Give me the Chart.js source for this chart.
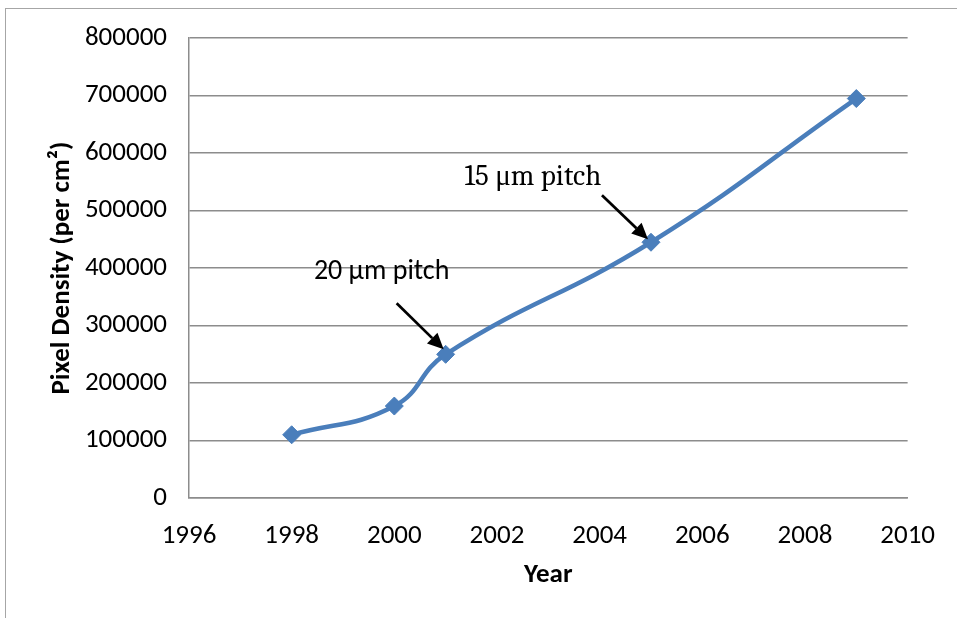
<!DOCTYPE html>
<html>
<head>
<meta charset="utf-8">
<script src="https://cdn.jsdelivr.net/npm/chart.js@4.4.1/dist/chart.umd.min.js"></script>
<style>
  html, body { margin: 0; padding: 0; background: #fff; }
  #wrap { position: relative; width: 957px; height: 618px; }
  #frame { position: absolute; left: 5px; top: 8px; right: 0; bottom: 0;
           border-top: 1.5px solid #a6a6a6; border-left: 1.5px solid #a6a6a6; }
  canvas { position: absolute; left: 0; top: 0; }
</style>
</head>
<body>
<div id="wrap">
  <div id="frame"></div>
  <canvas id="c" width="957" height="618"></canvas>
</div>
<script>
// Pixel density by year
const years = [1998, 2000, 2001, 2005, 2009];
const density = [110000, 160000, 250000, 445000, 695000];

// Callouts: which point they mark and their text
const calloutYears = [2001, 2005];
const calloutTexts = ['20 \u03bcm pitch', '15 \u03bcm pitch'];
const calloutFonts = ['28px Carlito, Lato, sans-serif', '29px Cambria, "Liberation Serif", "DejaVu Serif", serif'];

const xTicks = [1996, 1998, 2000, 2002, 2004, 2006, 2008, 2010];
const yTicks = [0, 100000, 200000, 300000, 400000, 500000, 600000, 700000, 800000];

const blue = '#4a7ebb';
const gridGray = '#8c8c8c';
const tickFont = { family: 'Carlito, Lato, sans-serif', size: 27 };
const titleFont = { family: 'Carlito, Lato, sans-serif', size: 27, weight: 'bold' };

// Arrow + label placement relative to the marked point (pixels)
const calloutGeom = [
  { tx: -64, ty: -82, ax0: -49, ay0: -51, ax1: -2, ay1: -5 },
  { tx: -118, ty: -65, ax0: -49, ay0: -47, ax1: -3, ay1: -3 }
];

const calloutPlugin = {
  id: 'callouts',
  afterDatasetsDraw(chart) {
    const { ctx, scales: { x, y } } = chart;
    calloutYears.forEach((yr, i) => {
      const idx = years.indexOf(yr);
      const px = x.getPixelForValue(yr);
      const py = y.getPixelForValue(density[idx]);
      const g = calloutGeom[i];
      ctx.save();
      ctx.fillStyle = '#000';
      ctx.font = calloutFonts[i];
      ctx.textAlign = 'center';
      ctx.textBaseline = 'middle';
      ctx.fillText(calloutTexts[i], px + g.tx, py + g.ty);
      // arrow shaft
      const x0 = px + g.ax0, y0 = py + g.ay0, x1 = px + g.ax1, y1 = py + g.ay1;
      const ang = Math.atan2(y1 - y0, x1 - x0);
      const head = 16, hw = 7.5;
      const bx = x1 - head * Math.cos(ang), by = y1 - head * Math.sin(ang);
      ctx.strokeStyle = '#000';
      ctx.lineWidth = 2.75;
      ctx.beginPath();
      ctx.moveTo(x0, y0);
      ctx.lineTo(bx, by);
      ctx.stroke();
      ctx.beginPath();
      ctx.moveTo(x1, y1);
      ctx.lineTo(bx + hw * Math.sin(ang), by - hw * Math.cos(ang));
      ctx.lineTo(bx - hw * Math.sin(ang), by + hw * Math.cos(ang));
      ctx.closePath();
      ctx.fill();
      ctx.restore();
    });
  }
};

new Chart(document.getElementById('c'), {
  type: 'line',
  data: {
    datasets: [{
      data: years.map((yr, i) => ({ x: yr, y: density[i] })),
      borderColor: blue,
      backgroundColor: blue,
      borderWidth: 4.5,
      tension: 0.45,
      pointStyle: 'rectRot',
      pointRadius: 9,
      pointBorderWidth: 1,
      pointBorderColor: blue,
      pointBackgroundColor: blue,
      fill: false
    }]
  },
  options: {
    responsive: false,
    animation: false,
    layout: { padding: { left: 0, top: 38, right: 48, bottom: 0 } },
    plugins: { legend: { display: false }, tooltip: { enabled: false } },
    scales: {
      x: {
        type: 'linear',
        min: xTicks[0],
        max: xTicks[xTicks.length - 1],
        afterBuildTicks(scale) { scale.ticks = xTicks.map(v => ({ value: v })); },
        afterFit(scale) { scale.height = 120; },
        grid: { display: false, drawTicks: false },
        border: { display: true, color: gridGray, width: 1.5 },
        ticks: { color: '#000', font: tickFont, padding: 22, maxRotation: 0,
                 callback: v => String(v) },
        title: { display: true, text: 'Year', color: '#000', font: titleFont,
                 padding: { top: 0, bottom: 27 } }
      },
      y: {
        min: yTicks[0],
        max: yTicks[yTicks.length - 1],
        afterBuildTicks(scale) { scale.ticks = yTicks.map(v => ({ value: v })); },
        afterFit(scale) { scale.width = 189; },
        grid: { color: gridGray, lineWidth: 1.5, drawTicks: false },
        border: { display: true, color: gridGray, width: 1.5 },
        ticks: { color: '#000', font: tickFont, padding: 22,
                 callback: v => String(v) },
        title: { display: true, text: 'Pixel Density (per cm\u00b2)', color: '#000', font: titleFont,
                 padding: { top: 46, bottom: 0 } }
      }
    }
  },
  plugins: [calloutPlugin]
});
</script>
</body>
</html>
